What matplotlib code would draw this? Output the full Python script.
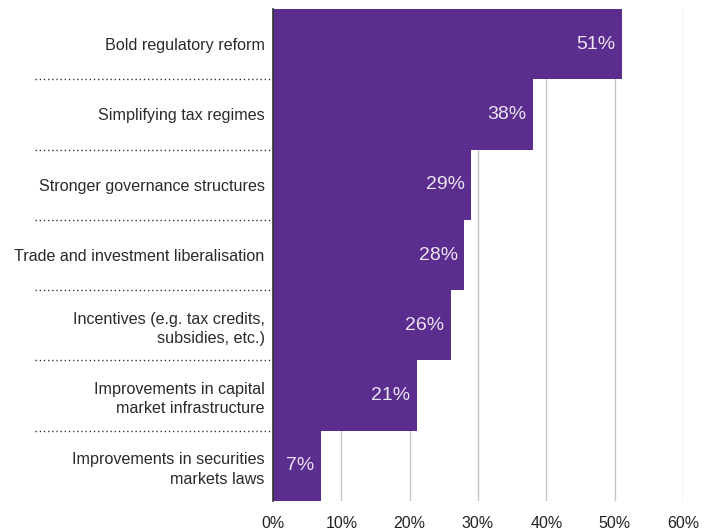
import numpy as np
import matplotlib
matplotlib.use("Agg")
import matplotlib.pyplot as plt
import matplotlib.transforms as mtransforms

plt.rcParams['font.family'] = ['Liberation Sans', 'DejaVu Sans']

categories = [
    "Bold regulatory reform",
    "Simplifying tax regimes",
    "Stronger governance structures",
    "Trade and investment liberalisation",
    "Incentives (e.g. tax credits,\nsubsidies, etc.)",
    "Improvements in capital\nmarket infrastructure",
    "Improvements in securities\nmarkets laws",
]
values = [51, 38, 29, 28, 26, 21, 7]
x_ticks = [0, 10, 20, 30, 40, 50, 60]

bar_color = "#5b2d8e"

fig = plt.figure(figsize=(7.14, 5.30), dpi=100)
ax = fig.add_axes([273 / 714, 29 / 530, 410 / 714, 492 / 530])

y = np.arange(len(categories))
ax.barh(y, values, height=1.0, color=bar_color, zorder=2)
ax.set_ylim(len(categories) - 0.5, -0.5)
ax.set_xlim(0, 60)

# vertical gridlines behind bars
for t in x_ticks[1:]:
    ax.axvline(t, color="#c4c4c4", lw=1.0, zorder=1)

ax.set_xticks(x_ticks)
ax.set_xticklabels([f"{t}%" for t in x_ticks], fontsize=11.5, color="#222222")
ax.tick_params(axis="x", length=0, pad=11)
ax.set_yticks(y)
ax.set_yticklabels(categories, fontsize=11.6, color="#2a2a2a", ha="right",
                   linespacing=1.35)
ax.tick_params(axis="y", length=0, pad=6)

for s in ["top", "right", "bottom"]:
    ax.spines[s].set_visible(False)
ax.spines["left"].set_color("#333333")
ax.spines["left"].set_linewidth(1.2)
ax.spines["left"].set_zorder(3)

# value labels inside bar ends
for yi, v in zip(y, values):
    ax.text(v - 0.9, yi, f"{v}%", ha="right", va="center", color="#ece6f2",
            fontsize=14, zorder=4)

# dotted separators left of the axis
trans = mtransforms.blended_transform_factory(ax.transAxes, ax.transData)
for b in y[:-1] + 0.5:
    ax.plot([-0.58, 0], [b, b], transform=trans, clip_on=False,
            color="#333333", lw=1.0, ls=(0, (1, 2)), zorder=3)

fig.savefig("out.png", dpi=100)
